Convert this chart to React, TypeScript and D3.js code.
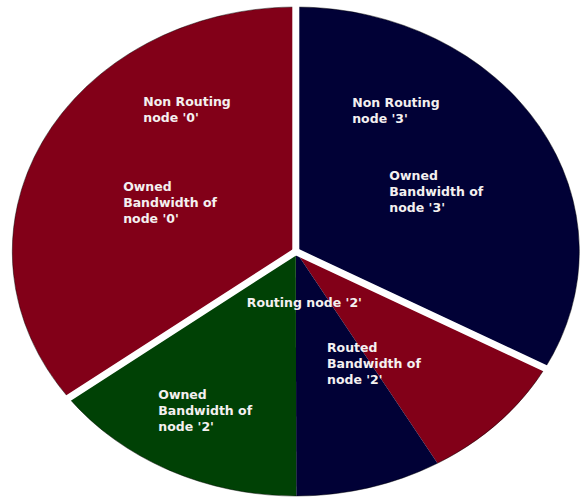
import React from "react";
import * as d3 from "d3";

const W = 581;
const H = 499;

// Slices, clockwise from 12 o'clock
const sliceNames = [
  "Owned Bandwidth of node '3'",
  "Routed Bandwidth of node '2' (node '0')",
  "Routed Bandwidth of node '2' (node '3')",
  "Owned Bandwidth of node '2'",
  "Owned Bandwidth of node '0'",
];
const sliceValues = [32.9, 8.75, 8.3, 14.8, 35.2];
const sliceGroups = ["3", "2", "2", "2", "0"];
const sliceColors = ["#010136", "#820018", "#010136", "#004105", "#820018"];

// Label text lines and anchors (fractions of the pie's radii from centre)
const labelLines = [
  ["Non Routing", "node '0'"],
  ["Owned", "Bandwidth of", "node '0'"],
  ["Non Routing", "node '3'"],
  ["Owned", "Bandwidth of", "node '3'"],
  ["Routing node '2'"],
  ["Routed", "Bandwidth of", "node '2'"],
  ["Owned", "Bandwidth of", "node '2'"],
];
const labelU = [-0.538, -0.609, 0.199, 0.33, -0.173, 0.11, -0.485];
const labelV = [-0.597, -0.249, -0.589, -0.292, 0.225, 0.409, 0.603];

export default function App() {
  const cx = 295.8;
  const cy = 251.5;
  const rx = 283.5;
  const ry = 244.5;
  const sx = rx / ry;

  const data = sliceValues.map((v, i) => ({
    name: sliceNames[i],
    value: v,
    group: sliceGroups[i],
    color: sliceColors[i],
  }));

  const pie = d3
    .pie<any>()
    .sort(null)
    .value((d: any) => d.value)
    .startAngle(0)
    .endAngle(2 * Math.PI);
  const arcs = pie(data);
  const arc = d3.arc<any>().innerRadius(0).outerRadius(ry);

  // group boundaries
  const boundaries: number[] = [];
  arcs.forEach((a, i) => {
    const next = arcs[(i + 1) % arcs.length];
    if (next.data.group !== a.data.group) boundaries.push(a.endAngle % (2 * Math.PI));
  });

  return (
    <svg
      width={W}
      height={H}
      style={{ position: "absolute", left: 0, top: 0, background: "#ffffff" }}
    >
      <g transform={`translate(${cx},${cy}) scale(${sx},1)`}>
        {arcs.map((a, i) => (
          <path key={i} d={arc(a) as string} fill={a.data.color} />
        ))}
        <ellipse
          cx={0}
          cy={0}
          rx={ry}
          ry={ry}
          fill="none"
          stroke="#000"
          strokeOpacity={0.45}
          strokeWidth={1}
          vectorEffect="non-scaling-stroke"
        />
      </g>
      {boundaries.map((ang, i) => (
        <line
          key={i}
          x1={cx}
          y1={cy}
          x2={cx + Math.sin(ang) * rx * 1.1}
          y2={cy - Math.cos(ang) * ry * 1.1}
          stroke="#ffffff"
          strokeWidth={7}
          strokeLinecap="round"
        />
      ))}
      {labelLines.map((lines, i) => (
        <text
          key={i}
          x={cx + labelU[i] * rx}
          y={cy + labelV[i] * ry}
          fill="#f4f0f0"
          fontFamily="'DejaVu Sans', Verdana, sans-serif"
          fontWeight="bold"
          fontSize={12.5}
        >
          {lines.map((l, j) => (
            <tspan key={j} x={cx + labelU[i] * rx} dy={j === 0 ? 0 : 16}>
              {l}
            </tspan>
          ))}
        </text>
      ))}
    </svg>
  );
}
